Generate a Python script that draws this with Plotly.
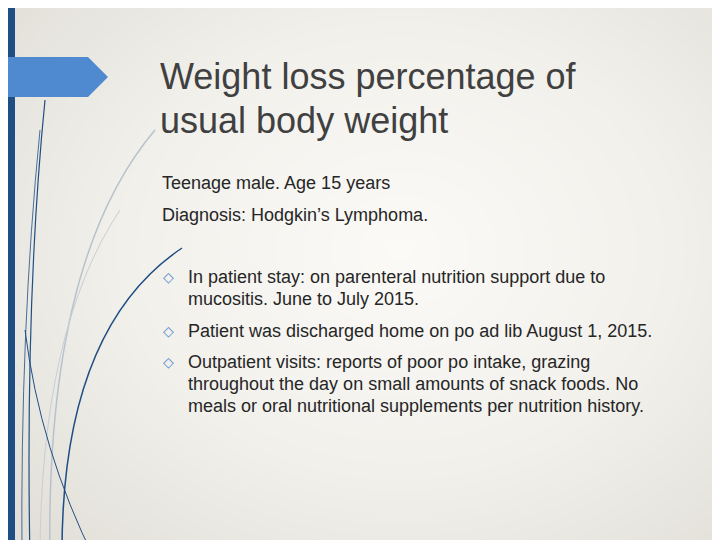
import numpy as np
import plotly.graph_objects as go

title_lines = ["Weight loss percentage of", "usual body weight"]
intro_lines = ["Teenage male. Age 15 years", "Diagnosis: Hodgkin’s Lymphoma."]
bullets = [
    ["In patient stay: on parenteral nutrition support due to", "mucositis. June to July 2015."],
    ["Patient was discharged home on po ad lib August 1, 2015."],
    ["Outpatient visits: reports of poor po intake, grazing",
     "throughout the day on small amounts of snack foods. No",
     "meals or oral nutritional supplements per nutrition history."],
]
bullet_tops = [277, 331, 362]

# page has an 8px body margin, so shift the axes to compensate
OFF = 8

fig = go.Figure()

# soft radial background
gx = np.linspace(0, 740, 75)
gy = np.linspace(0, 560, 57)
X, Y = np.meshgrid(gx, gy)
R = np.sqrt(((X - 400) / 520) ** 2 + ((Y - 250) / 420) ** 2)
fig.add_trace(go.Heatmap(x=gx, y=gy, z=R, zsmooth="best", showscale=False, hoverinfo="skip",
                         colorscale=[[0, "#fbfaf7"], [0.5, "#f1f0eb"], [1, "#dedcd4"]]))

shapes = [
    dict(type="rect", x0=-20, x1=15, y0=-20, y1=560, fillcolor="#1f4e84", line_width=0),
    dict(type="path", path="M-20,57 L88,57 L108,77 L88,97 L-20,97 Z", fillcolor="#4f8ad0", line_width=0),
    dict(type="path", path="M45,100 Q25,300 30,560", line=dict(color="#1f4e84", width=1.2)),
    dict(type="path", path="M40,130 Q20,330 22,560", line=dict(color="#1f4e84", width=0.8)),
    dict(type="path", path="M182,248 Q60,330 62,560", line=dict(color="#1f4e84", width=1.5)),
    dict(type="path", path="M155,130 Q45,260 50,560", line=dict(color="#b8c2cc", width=1.5)),
    dict(type="path", path="M120,210 Q40,330 40,560", line=dict(color="#c8ced4", width=1)),
    dict(type="path", path="M25,330 Q40,450 95,560", line=dict(color="#1f4e84", width=1)),
]
fig.update_layout(shapes=shapes)

ann = []
for i, t in enumerate(title_lines):
    ann.append(dict(x=158, y=76 + 44 * i, text=t, font=dict(size=36, color="#404040")))
for i, t in enumerate(intro_lines):
    ann.append(dict(x=160, y=183 + 32 * i, text=t, font=dict(size=18, color="#262626")))
for top, lines in zip(bullet_tops, bullets):
    ann.append(dict(x=161, y=top, text="◇", font=dict(size=14, color="#4f8ad0")))
    for j, t in enumerate(lines):
        ann.append(dict(x=186, y=top + 22 * j, text=t, font=dict(size=18, color="#262626")))
for a in ann:
    a.update(xref="x", yref="y", showarrow=False, xanchor="left", yanchor="middle")
fig.update_layout(annotations=ann)

fig.update_layout(
    width=720 + OFF, height=540 + OFF, margin=dict(l=0, r=0, t=0, b=0),
    font=dict(family="Liberation Sans, Arial"),
    plot_bgcolor="#f4f3ef", paper_bgcolor="#f4f3ef",
    xaxis=dict(range=[OFF, 720 + 2 * OFF], visible=False, fixedrange=True),
    yaxis=dict(range=[540 + 2 * OFF, OFF], visible=False, fixedrange=True),
)
fig.write_html("out.html", config={"displayModeBar": False})
